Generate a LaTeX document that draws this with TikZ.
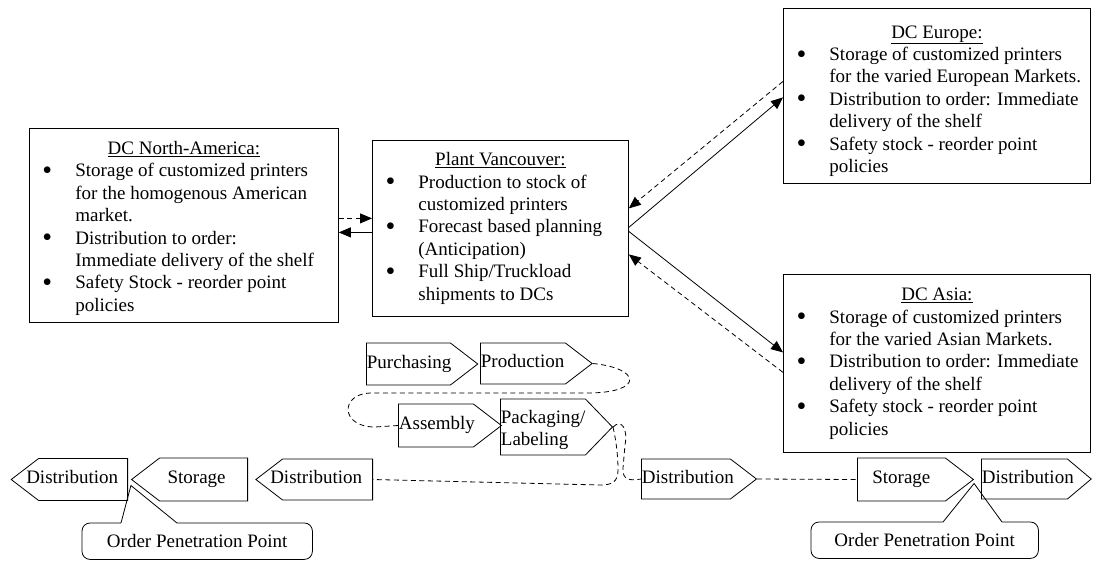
\documentclass[tikz,border=0pt]{standalone}
\usepackage{fontspec}
\setmainfont{Liberation Serif}
\usetikzlibrary{shapes,arrows,positioning,calc,arrows.meta}

\newcommand{\pnt}[1]{\hspace*{18pt}\makebox[0pt]{\raisebox{-2.5pt}{\fontsize{28}{28}\selectfont\textbullet}}\hspace*{28pt}\mbox{#1}}
\newcommand{\cnt}[1]{\hspace*{46pt}\mbox{#1}}
\newcommand{\ttl}[1]{\multicolumn{1}{@{}c@{}}{\underline{#1}}}

\begin{document}
\begin{tikzpicture}[x=1pt, y=-1pt,
    every node/.style={font=\fontsize{19}{22.4}\selectfont},
    dcbox/.style={draw, line width=0.8pt, inner sep=0pt, anchor=north west},
    sig/.style={signal, draw, line width=0.8pt, inner xsep=0.5pt, inner ysep=0pt,
      signal pointer angle=75, text height=13pt, text depth=4.5pt},
    sigr/.style={sig, signal to=east, anchor=west, align=left},
    sigl/.style={sig, signal to=west, anchor=east},
    flow/.style={line width=0.8pt, -{Triangle[length=12pt,width=10pt]}},
    link/.style={line width=0.8pt, dash pattern=on 5pt off 3.5pt},
    opp/.style={inner sep=0pt, minimum height=36pt, anchor=north west}]
\useasboundingbox (0,0) rectangle (1093,560);

% Plant and distribution centres
\node[dcbox, minimum width=309pt, minimum height=194pt] (na) at (29,128) {%
  \begin{tabular}{@{}p{309pt}@{}}
  \ttl{DC North-America:}\\
  \pnt{Storage of customized printers}\\
  \cnt{for the homogenous American}\\
  \cnt{market.}\\
  \pnt{Distribution to order:}\\
  \cnt{Immediate delivery of the shelf}\\
  \pnt{Safety Stock - reorder point}\\
  \cnt{policies}\\[-6pt]
  \end{tabular}};
\node[dcbox, minimum width=256pt, minimum height=176pt] (plant) at (372,140) {%
  \begin{tabular}{@{}p{256pt}@{}}
  \ttl{Plant Vancouver:}\\
  \pnt{Production to stock of}\\
  \cnt{customized printers}\\
  \pnt{Forecast based planning}\\
  \cnt{(Anticipation)}\\
  \pnt{Full Ship/Truckload}\\
  \cnt{shipments to DCs}
  \end{tabular}};
\node[dcbox, minimum width=307pt, minimum height=175pt] (eu) at (783,8) {%
  \begin{tabular}{@{}p{307pt}@{}}
  \ttl{DC Europe:}\\
  \pnt{Storage of customized printers}\\
  \cnt{for the varied European Markets.}\\
  \pnt{Distribution to order: Immediate}\\
  \cnt{delivery of the shelf}\\
  \pnt{Safety stock - reorder point}\\
  \cnt{policies}\\[-10pt]
  \end{tabular}};
\node[dcbox, minimum width=307pt, minimum height=178pt] (as) at (783,274) {%
  \begin{tabular}{@{}p{307pt}@{}}
  \ttl{DC Asia:}\\
  \pnt{Storage of customized printers}\\
  \cnt{for the varied Asian Markets.}\\
  \pnt{Distribution to order: Immediate}\\
  \cnt{delivery of the shelf}\\
  \pnt{Safety stock - reorder point}\\
  \cnt{policies}
  \end{tabular}};

% Goods and orders
\draw[link, flow] ([yshift=7pt]na.east) -- ([yshift=10pt]plant.west);
\draw[flow] ([yshift=-4pt]plant.west) -- ([yshift=-7pt]na.east);
\draw[flow] ([yshift=1pt]plant.east) -- ([yshift=-1.5pt]eu.west);
\draw[link, flow] ([yshift=14.5pt]eu.west) -- ([yshift=20pt]plant.east);
\draw[flow] ([yshift=-3pt]plant.east) -- ([yshift=11pt]as.west);
\draw[link, flow] ([yshift=-9pt]as.west) -- ([yshift=-26pt]plant.east);

% Process chain
\node[sigr, text width=83pt, minimum height=42pt] (purch) at (366,364) {Purchasing};
\node[sigr, text width=84pt, minimum height=41pt] (prod) at (480,363.5) {Production};
\node[sigr, text width=74pt, minimum height=43pt] (asm) at (398,425.5) {Assembly};
\node[sigr, text width=84pt, minimum height=56pt, signal pointer angle=92,
  text height=19pt, text depth=26.9pt] (pack) at (500,427) {Packaging/\\Labeling};

\node[sigl, minimum height=42pt] (dll) at (128,479.5) {\makebox[88pt][r]{Distribution\hspace{9pt}}};
\node[sigl, minimum height=43pt] (sl) at (248,479.5) {\makebox[87pt]{Storage\hspace{14pt}}};
\node[sigl, minimum height=41pt] (dlr) at (373,479.5) {\makebox[89pt][r]{Distribution\hspace{10pt}}};
\node[sigr, text width=88pt, minimum height=40pt] (dmr) at (641,479) {Distribution};
\node[sigr, text width=87pt, minimum height=43pt, align=center] (str) at (857,479.5) {Storage};
\node[sigr, text width=85pt, minimum height=40pt, signal pointer angle=80] (drr) at (981,479) {Distribution};

\draw[link] (prod.east) .. controls (640,368) and (645,392) .. (590,393) -- (370,393)
  .. controls (340,394) and (340,427) .. (375,427) -- (asm.west);
\draw[link] (pack.east) .. controls (622,418) and (628,430) .. (625,445) -- (623,468)
  .. controls (622,480) and (630,481) .. (dmr.west);
\draw[link] (pack.east) .. controls (616,440) and (618,455) .. (618,470)
  .. controls (618,482) and (612,485) .. (600,485) -- (dlr.east);
\draw[link] (dmr.east) -- (str.west);

% Order penetration points
\node[opp, minimum width=230pt] (oppl) at (82,523) {Order Penetration Point};
\node[opp, minimum width=227pt] (oppr) at (811,522) {Order Penetration Point};
\draw[line width=0.8pt] ([xshift=39pt]oppl.north west) -- ([yshift=-6pt]sl.west)
  -- ([xshift=95pt]oppl.north west) -- ([xshift=96pt]oppl.north west)
  [rounded corners=8pt] -- (oppl.north east) -- (oppl.south east)
  -- (oppl.south west) -- (oppl.north west) -- ([xshift=39pt]oppl.north west);
\draw[line width=0.8pt] ([xshift=132pt]oppr.north west) -- ([yshift=-4pt]str.east)
  -- ([xshift=191pt]oppr.north west) -- ([xshift=192pt]oppr.north west)
  [rounded corners=8pt] -- (oppr.north east) -- (oppr.south east)
  -- (oppr.south west) -- (oppr.north west) -- ([xshift=132pt]oppr.north west);
\end{tikzpicture}
\end{document}
